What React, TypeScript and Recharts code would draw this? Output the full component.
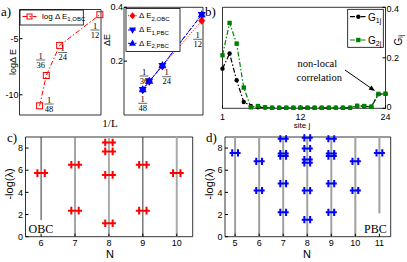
import React from "react";
import {
  LineChart,
  Line,
  ScatterChart,
  Scatter,
  XAxis,
  YAxis,
  ReferenceLine,
  ReferenceArea,
} from "recharts";

const SANS = "'Liberation Sans', Arial, Helvetica, sans-serif";
const SERIF = "'Liberation Serif', 'Times New Roman', serif";
const RED = "#ff0000";
const BLUE = "#0000ff";
const GREEN = "#008000";
const DASHDOT = "5 2 1.5 2";

// panel a: gaps vs 1/L
const invL = [1 / 48, 1 / 36, 1 / 24, 1 / 12];
const lengthLabels = ["48", "36", "24", "12"];
const logGap1Obc = [-10.98, -8.28, -5.6, -2.86];
const gap2Obc = [0.093, 0.124, 0.181, 0.35];
const gap1Pbc = [0.094, 0.125, 0.183, 0.372];
const gap2Pbc = [0.095, 0.126, 0.184, 0.373];

// panel b: correlations along the chain
const sites = [1, 2, 3, 4, 5, 6, 7, 8, 9, 10, 11, 12, 13, 14, 15, 16, 17, 18, 19, 20, 21, 22, 23, 24];
const g1j = [
  0.157, 0.217, 0.111, 0.025, 0.009, 0.004, 0.003, 0.002, 0.002, 0.002, 0.002, 0.002,
  0.002, 0.002, 0.002, 0.002, 0.002, 0.002, 0.002, 0.009, 0.008, 0.006, 0.056, 0.057,
];
const g2j = [
  0.21, 0.338, 0.256, 0.082, 0.004, 0.009, 0.004, 0.002, 0.002, 0.002, 0.002, 0.002,
  0.002, 0.002, 0.002, 0.002, 0.002, 0.002, 0.002, 0.01, 0.009, 0.006, 0.057, 0.058,
];

// panel c: entanglement spectrum, OBC
const obcN = [6, 7, 7, 8, 8, 8, 8, 9, 9, 10];
const obcLam = [5.74, 6.49, 2.35, 8.5, 7.7, 5.58, 1.21, 6.49, 2.35, 5.74];
const obcLineN = [6, 7, 8, 9, 10];
const obcLineFrom = [1.5, 0, 0, 0, 0];

// panel d: entanglement spectrum, PBC
const pbcN = [5, 6, 6, 7, 7, 7, 7, 7, 8, 8, 8, 8, 8, 8, 9, 9, 9, 9, 9, 10, 10, 11];
const pbcLam = [
  7.56, 6.8, 4.17, 8.84, 7.51, 7.28, 4.8, 2.2, 8.93, 7.96, 6.97, 6.67, 4.16, 1.54,
  8.84, 7.51, 7.28, 4.8, 2.2, 6.8, 4.17, 7.56,
];
const pbcLineN = [5, 6, 7, 8, 9, 10, 11];
const pbcLineFrom = [0, 0, 0, 0, 0, 0, 2.1];

const obcLineColor = ["#333", "#888", "#aaa", "#333", "#aaa"];
const obcLineWidth = [1, 1.5, 2, 1, 2];

const aLeftData = invL.map((x, i) => ({ x, v: logGap1Obc[i] }));
const aRightData = invL.map((x, i) => ({ x, a: gap2Obc[i], b: gap1Pbc[i], c: gap2Pbc[i] }));
const bData = sites.map((s, i) => ({ s, g1: g1j[i], g2: g2j[i] }));
const cData = obcN.map((n, i) => ({ n, lam: obcLam[i] }));
const dData = pbcN.map((n, i) => ({ n, lam: pbcLam[i] }));

const tickStyle = { fill: "#000", fontSize: 9, fontFamily: SANS };
const tickLine = { stroke: "#000" };

const drawMarker = (kind: string, color: string, s: number, cx: number, cy: number, key?: string) => {
  switch (kind) {
    case "openSquare":
      return <rect key={key} x={cx - s} y={cy - s} width={2 * s} height={2 * s} fill="none" stroke={color} strokeWidth={1} />;
    case "square":
      return <rect key={key} x={cx - s} y={cy - s} width={2 * s} height={2 * s} fill={color} />;
    case "circle":
      return <circle key={key} cx={cx} cy={cy} r={s} fill={color} />;
    case "diamond":
      return <path key={key} d={`M${cx},${cy - s - 0.5}L${cx + s},${cy}L${cx},${cy + s + 0.5}L${cx - s},${cy}Z`} fill={color} />;
    case "triDown":
      return <path key={key} d={`M${cx - s},${cy - s * 0.7}L${cx + s},${cy - s * 0.7}L${cx},${cy + s * 1.1}Z`} fill={color} />;
    default:
      return <path key={key} d={`M${cx - s},${cy + s * 0.7}L${cx + s},${cy + s * 0.7}L${cx},${cy - s * 1.1}Z`} fill={color} />;
  }
};

const dot = (kind: string, color: string, s: number) => (p: any) => {
  const key = `${kind}-${p.index}`;
  if (p.cx == null || p.cy == null) return <g key={key} />;
  return drawMarker(kind, color, s, p.cx, p.cy, key);
};

const doublePlus = (color: string, hw: number, off: number, hh: number) => (p: any) => {
  const { cx, cy } = p;
  if (cx == null || cy == null) return <g />;
  return (
    <path
      d={`M${cx - hw},${cy}H${cx + hw}M${cx - off},${cy - hh}V${cy + hh}M${cx + off},${cy - hh}V${cy + hh}`}
      stroke={color}
      strokeWidth={2}
      fill="none"
    />
  );
};

// right axis of b): nudge the "0" up so it clears the "24" below it
const RightTick = (p: any) => {
  const { x, y, payload } = p;
  return (
    <text x={x} y={y} dy={payload.value === 0 ? -1.8 : 0} fill="#000" fontSize={9} fontFamily={SANS}
      textAnchor="start" dominantBaseline="central">
      {payload.value}
    </text>
  );
};

const Frac = ({ x, y, den }: { x: number; y: number; den: string }) => (
  <g fontFamily={SERIF} fontSize={8.5} textAnchor="middle" fill="#000">
    <text x={x} y={y - 1.5}>1</text>
    <line x1={x - 4.5} x2={x + 4.5} y1={y} y2={y} stroke="#000" strokeWidth={0.6} />
    <text x={x} y={y + 7.5}>{den}</text>
  </g>
);

const abs = (left: number, top: number): React.CSSProperties => ({ position: "absolute", left, top });

export default function App() {
  return (
    <div style={{ position: "absolute", left: 0, top: 0, width: 407, height: 262, background: "#fff" }}>
      {/* a) left: log gap, OBC */}
      <div style={abs(0, 0)}>
        <LineChart width={110} height={130} data={aLeftData} margin={{ top: 9.5, right: 9, bottom: 15, left: 0 }}>
          <XAxis dataKey="x" type="number" domain={[0, 0.0845]} hide />
          <YAxis type="number" domain={[-11.8, -2.4]} ticks={[-10, -5]} width={19.5} axisLine={false}
            tickSize={-3} tickMargin={4} tick={tickStyle} tickLine={tickLine} allowDataOverflow />
          <ReferenceArea x1={0} x2={0.0845} y1={-11.8} y2={-2.4} fill="none" stroke="#000" strokeWidth={0.8} ifOverflow="visible" />
          <Line dataKey="v" stroke={RED} strokeWidth={1} strokeDasharray={DASHDOT} dot={dot("openSquare", RED, 3)} isAnimationActive={false} />
        </LineChart>
      </div>

      {/* a) right: gaps */}
      <div style={abs(100, 0)}>
        <LineChart width={110} height={130} data={aRightData} margin={{ top: 7.3, right: 7, bottom: 15, left: 0 }}>
          <XAxis dataKey="x" type="number" domain={[0.001, 0.0847]} hide />
          <YAxis type="number" domain={[0, 0.4]} ticks={[0.2, 0.4]} width={24} axisLine={false}
            tickSize={-3} tickMargin={4} tick={tickStyle} tickLine={tickLine} />
          <ReferenceArea x1={0.001} x2={0.0847} y1={0} y2={0.4} fill="none" stroke="#000" strokeWidth={0.8} ifOverflow="visible" />
          <Line dataKey="a" stroke={RED} strokeWidth={1} strokeDasharray="1 1.5" dot={dot("diamond", RED, 3.5)} isAnimationActive={false} />
          <Line dataKey="b" stroke={BLUE} strokeWidth={1} strokeDasharray="3 2" dot={dot("triDown", BLUE, 4)} isAnimationActive={false} />
          <Line dataKey="c" stroke={BLUE} strokeWidth={1} strokeDasharray={DASHDOT} dot={dot("triUp", BLUE, 4)} isAnimationActive={false} />
        </LineChart>
      </div>

      {/* b) correlations */}
      <div style={abs(210, 0)}>
        <LineChart width={197} height={132} data={bData} margin={{ top: 7.3, right: 0, bottom: 0, left: 12.5 }}>
          <XAxis dataKey="s" type="number" domain={[1, 24]} ticks={[1, 12, 24]} height={23.7} axisLine={false}
            tickSize={-3} tickMargin={8} tick={tickStyle} tickLine={tickLine} />
          <YAxis type="number" orientation="right" domain={[0, 0.4]} ticks={[0, 0.2, 0.4]} width={21.5} axisLine={false}
            tickSize={-3} tickMargin={4} tick={<RightTick />} tickLine={tickLine} />
          <ReferenceArea x1={1} x2={24} y1={0} y2={0.4} fill="none" stroke="#000" strokeWidth={0.8} ifOverflow="visible" />
          <Line dataKey="g1" stroke="#000" strokeWidth={1.2} strokeDasharray={DASHDOT} dot={dot("circle", "#000", 2.2)} isAnimationActive={false} />
          <Line dataKey="g2" stroke={GREEN} strokeWidth={1.2} strokeDasharray={DASHDOT} dot={dot("square", GREEN, 2.2)} isAnimationActive={false} />
        </LineChart>
      </div>

      {/* c) OBC spectrum */}
      <div style={abs(0, 130)}>
        <ScatterChart width={200} height={132} margin={{ top: 7, right: 7.3, bottom: 0, left: 0 }}>
          <XAxis dataKey="n" type="number" domain={[5.54, 10.47]} ticks={[6, 7, 8, 9, 10]} height={25.3} axisLine={false}
            tickSize={-3} tickMargin={6.3} tick={tickStyle} tickLine={tickLine} />
          <YAxis dataKey="lam" type="number" domain={[0, 9]} ticks={[0, 2, 4, 6, 8]} width={25.5} axisLine={false}
            tickSize={-3} tickMargin={5.5} tick={tickStyle} tickLine={tickLine} />
          {obcLineN.map((n, i) => (
            <ReferenceLine key={n} segment={[{ x: n, y: obcLineFrom[i] }, { x: n, y: 9 }]}
              stroke={obcLineColor[i]} strokeWidth={obcLineWidth[i]} ifOverflow="visible" />
          ))}
          <ReferenceArea x1={5.54} x2={10.47} y1={0} y2={9} fill="none" stroke="#000" strokeWidth={0.8} ifOverflow="visible" />
          <Scatter data={cData} shape={doublePlus(RED, 7, 3.7, 3.8)} isAnimationActive={false} />
        </ScatterChart>
      </div>

      {/* d) PBC spectrum */}
      <div style={abs(200, 130)}>
        <ScatterChart width={207} height={132} margin={{ top: 7, right: 16.3, bottom: 0, left: 0 }}>
          <XAxis dataKey="n" type="number" domain={[4.58, 11.47]} ticks={[5, 6, 7, 8, 9, 10, 11]} height={25.3} axisLine={false}
            tickSize={-3} tickMargin={6.3} tick={tickStyle} tickLine={tickLine} />
          <YAxis dataKey="lam" type="number" domain={[0, 9]} ticks={[0, 2, 4, 6, 8]} width={25} axisLine={false}
            tickSize={-3} tickMargin={5.5} tick={tickStyle} tickLine={tickLine} />
          {pbcLineN.map((n, i) => (
            <ReferenceLine key={n} segment={[{ x: n, y: pbcLineFrom[i] }, { x: n, y: 9 }]}
              stroke="#a0a0a0" strokeWidth={2} ifOverflow="visible" />
          ))}
          <ReferenceArea x1={4.58} x2={11.47} y1={0} y2={9} fill="none" stroke="#000" strokeWidth={0.8} ifOverflow="visible" />
          <Scatter data={dData} shape={doublePlus(BLUE, 5.5, 2.9, 3.6)} isAnimationActive={false} />
        </ScatterChart>
      </div>

      {/* annotations, legends, axis titles */}
      <svg width={407} height={262} style={{ position: "absolute", left: 0, top: 0, pointerEvents: "none" }}>
        <g fontFamily={SERIF} fontSize={13} fill="#000">
          <text x={1} y={15.5}>a)</text>
          <text x={205} y={15.5}>b)</text>
          <text x={7} y={141.5}>c)</text>
          <text x={206} y={141.5}>d)</text>
        </g>

        {/* fractions in a) */}
        <Frac x={49} y={104} den={lengthLabels[0]} />
        <Frac x={40.7} y={60} den={lengthLabels[1]} />
        <Frac x={62.7} y={52.5} den={lengthLabels[2]} />
        <Frac x={95} y={30} den={lengthLabels[3]} />
        <Frac x={142.7} y={103.3} den={lengthLabels[0]} />
        <Frac x={144} y={76} den={lengthLabels[1]} />
        <Frac x={166.7} y={76.7} den={lengthLabels[2]} />
        <Frac x={197.7} y={39.3} den={lengthLabels[3]} />

        <text x={110} y={126.5} fontFamily={SERIF} fontSize={11} textAnchor="middle">1/L</text>
        <text transform="translate(13,62) rotate(-90)" fontFamily={SANS} fontSize={9} textAnchor="middle" dominantBaseline="central">logΔ E</text>
        <text transform="translate(106.5,40) rotate(-90)" fontFamily={SANS} fontSize={9} textAnchor="middle" dominantBaseline="central">ΔE</text>

        {/* a) legends */}
        <rect x={20} y={10} width={63.3} height={15} fill="#fff" stroke="#000" strokeWidth={0.8} />
        <line x1={22.5} x2={36.5} y1={16.5} y2={16.5} stroke={RED} strokeDasharray={DASHDOT} />
        {drawMarker("openSquare", RED, 2.5, 29.5, 16.5)}
        <text x={42} y={18.5} fontFamily={SANS} fontSize={8}>log Δ E<tspan fontSize={6} dy={2.5}>1,OBC</tspan></text>

        <rect x={126} y={8.5} width={54} height={43} fill="#fff" stroke="#000" strokeWidth={0.8} />
        <line x1={128} x2={137} y1={15.7} y2={15.7} stroke={RED} strokeDasharray="1 1.5" />
        {drawMarker("diamond", RED, 3, 132.5, 15.7)}
        <text x={139} y={18} fontFamily={SANS} fontSize={8}>Δ E<tspan fontSize={6} dy={2.5}>2,OBC</tspan></text>
        <line x1={128} x2={137} y1={30} y2={30} stroke={BLUE} strokeDasharray="3 2" />
        {drawMarker("triDown", BLUE, 3.5, 132.5, 30)}
        <text x={139} y={32.3} fontFamily={SANS} fontSize={8}>Δ E<tspan fontSize={6} dy={2.5}>1,PBC</tspan></text>
        <line x1={128} x2={137} y1={43.3} y2={43.3} stroke={BLUE} strokeDasharray={DASHDOT} />
        {drawMarker("triUp", BLUE, 3.5, 132.5, 43.3)}
        <text x={139} y={45.6} fontFamily={SANS} fontSize={8}>Δ E<tspan fontSize={6} dy={2.5}>2,PBC</tspan></text>

        {/* b) legend and labels */}
        <rect x={347.7} y={9.3} width={35.6} height={38} fill="#fff" stroke="#000" strokeWidth={0.8} />
        <line x1={350} x2={366.5} y1={16.7} y2={16.7} stroke="#000" strokeWidth={1.2} strokeDasharray={DASHDOT} />
        {drawMarker("circle", "#000", 2.2, 358.3, 16.7)}
        <text x={368} y={20.5} fontFamily={SANS} fontSize={10}>G<tspan fontSize={7} dy={2}>1j</tspan></text>
        <line x1={350} x2={366.5} y1={40} y2={40} stroke={GREEN} strokeWidth={1.2} strokeDasharray={DASHDOT} />
        {drawMarker("square", GREEN, 2.2, 358.3, 40)}
        <text x={368} y={43.8} fontFamily={SANS} fontSize={10}>G<tspan fontSize={7} dy={2}>2j</tspan></text>

        <text x={302} y={127.5} fontFamily={SANS} fontSize={8} textAnchor="middle">site j</text>
        <text transform="translate(398,40) rotate(-90)" fontFamily={SANS} fontSize={10} textAnchor="middle" dominantBaseline="central">G<tspan fontSize={7} dy={2}>ij</tspan></text>

        <g fontFamily={SERIF} fontSize={10.5}>
          <text x={297.5} y={67}>non-local</text>
          <text x={296.5} y={80.5}>correlation</text>
        </g>
        <line x1={345} y1={70} x2={370.5} y2={87.8} stroke="#000" strokeWidth={1} />
        <polygon points="375,91 368.6,89.5 371.5,85.5" fill="#000" />

        {/* c), d) labels */}
        <text x={110} y={257.5} fontFamily={SANS} fontSize={11} textAnchor="middle">N</text>
        <text x={307} y={257.5} fontFamily={SANS} fontSize={11} textAnchor="middle">N</text>
        <text transform="translate(8.5,184) rotate(-90)" fontFamily={SANS} fontSize={11} textAnchor="middle" dominantBaseline="central">-log(λ)</text>
        <text transform="translate(208.5,184) rotate(-90)" fontFamily={SANS} fontSize={11} textAnchor="middle" dominantBaseline="central">-log(λ)</text>
        <text x={28.5} y={233.3} fontFamily={SERIF} fontSize={12}>OBC</text>
        <text x={364} y={232.7} fontFamily={SERIF} fontSize={12}>PBC</text>
      </svg>
    </div>
  );
}
